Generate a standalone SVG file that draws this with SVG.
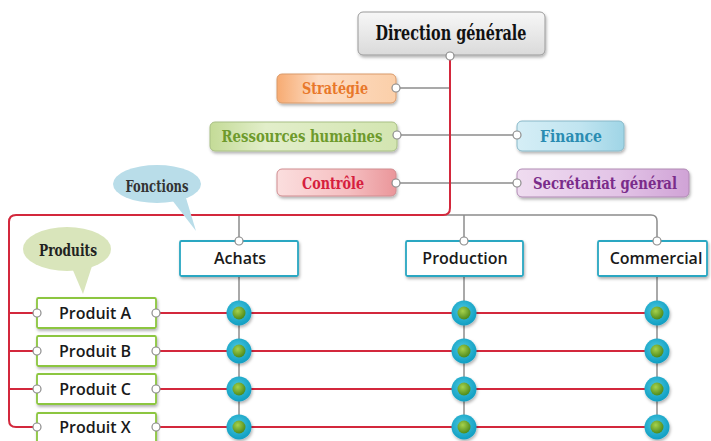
<svg xmlns="http://www.w3.org/2000/svg" width="711" height="441" viewBox="0 0 711 441">
<defs>
<filter id="sh" x="-20%" y="-30%" width="140%" height="170%">
<feDropShadow dx="1" dy="2" stdDeviation="1.5" flood-color="#000" flood-opacity="0.3"/>
</filter>
<linearGradient id="gGray" x1="0" y1="0" x2="0" y2="1"><stop offset="0" stop-color="#f7f7f7"/><stop offset="1" stop-color="#dadada"/></linearGradient>
<linearGradient id="gOrange" x1="0" y1="0" x2="1" y2="0"><stop offset="0" stop-color="#f7ab72"/><stop offset="0.35" stop-color="#fddcc3"/><stop offset="1" stop-color="#fbcfa9"/></linearGradient>
<linearGradient id="gGreen" x1="0" y1="0" x2="1" y2="0"><stop offset="0" stop-color="#c4db97"/><stop offset="0.3" stop-color="#e2eeca"/><stop offset="1" stop-color="#d3e5b1"/></linearGradient>
<linearGradient id="gBlue" x1="0" y1="0" x2="1" y2="0"><stop offset="0" stop-color="#d5eef6"/><stop offset="0.6" stop-color="#c0e4f0"/><stop offset="1" stop-color="#9fd5e6"/></linearGradient>
<linearGradient id="gPink" x1="0" y1="0" x2="1" y2="0"><stop offset="0" stop-color="#fbdede"/><stop offset="0.6" stop-color="#f5bfc1"/><stop offset="1" stop-color="#ea969a"/></linearGradient>
<linearGradient id="gPurple" x1="0" y1="0" x2="1" y2="0"><stop offset="0" stop-color="#efdcf0"/><stop offset="0.6" stop-color="#e2c3e6"/><stop offset="1" stop-color="#d0a3d6"/></linearGradient>
<radialGradient id="gDotOut" cx="0.45" cy="0.4" r="0.6"><stop offset="0" stop-color="#4cc8e0"/><stop offset="1" stop-color="#0f9ec2"/></radialGradient>
<radialGradient id="gDotIn" cx="0.4" cy="0.35" r="0.65"><stop offset="0" stop-color="#a6d24c"/><stop offset="1" stop-color="#4e8a1c"/></radialGradient>
<g id="dot">
<circle r="12.5" fill="url(#gDotOut)"/>
<circle r="6.5" fill="url(#gDotIn)"/>
</g>
</defs>
<style>
.red{fill:none;stroke:#d3283c;stroke-width:2}
.gray{fill:none;stroke:#8c8c8c;stroke-width:1.5}
.pt{fill:#fff;stroke:#8c8c8c;stroke-width:1.2}
.top{filter:url(#sh);stroke-width:1}
.slab{font-family:"DejaVu Serif Condensed","Liberation Serif",serif;font-weight:bold;text-anchor:middle}
.sans{font-family:"Open Sans","Liberation Sans",sans-serif;font-weight:600;text-anchor:middle;fill:#1a1a1a}
.fn{fill:#fff;stroke:#2aa7c2;stroke-width:1.8;filter:url(#sh)}
.pr{fill:#fff;stroke:#8cc63f;stroke-width:1.8;filter:url(#sh)}
</style>
<rect width="711" height="441" fill="#fff"/>

<g id="connectors">
<path class="gray" d="M396,88 H450"/>
<path class="gray" d="M397,135 H517"/>
<path class="gray" d="M396,183 H517"/>
<path class="gray" d="M239,241 V215 H651 Q657,215 657,221 V241"/>
<path class="gray" d="M464,215 V241"/>
<path class="gray" d="M239,277 V427"/>
<path class="gray" d="M464,277 V427"/>
<path class="gray" d="M657,277 V427"/>
<path class="red" d="M450,56 V208 Q450,215 443,215 H16 Q9,215 9,222 V420 Q9,427 16,427 H37"/>
<path class="red" d="M9,313 H37 M9,351 H37 M9,389 H37"/>
<path class="red" d="M156,313 H657 M156,351 H657 M156,389 H657 M156,427 H657"/>
</g>

<g id="bubble-fonctions">
<path d="M172,200 L196,231 L186,198 Z" fill="#b9dde9"/>
<ellipse cx="157" cy="184" rx="44" ry="19" fill="#b9dde9"/>
<text x="157" y="192" class="slab" font-size="16" fill="#333" textLength="63" lengthAdjust="spacingAndGlyphs">Fonctions</text>
</g>
<g id="bubble-produits">
<path d="M72,268 L83,294 L92,266 Z" fill="#d9e5bb"/>
<ellipse cx="67" cy="249" rx="44" ry="22" fill="#d9e5bb"/>
<text x="68" y="256" class="slab" font-size="17" fill="#222" textLength="58" lengthAdjust="spacingAndGlyphs">Produits</text>
</g>

<g id="direction-generale">
<rect x="358" y="12" width="187" height="43" rx="5" fill="url(#gGray)" stroke="#9a9a9a" class="top"/>
<text x="451" y="40" class="slab" font-size="20" fill="#111" textLength="151" lengthAdjust="spacingAndGlyphs">Direction générale</text>
<circle cx="450" cy="56" r="4" class="pt"/>
</g>
<g id="strategie">
<rect x="277" y="74" width="119" height="29" rx="5" fill="url(#gOrange)" stroke="#d99a6a" class="top"/>
<text x="335" y="94" class="slab" font-size="17" fill="#e8782a" textLength="66" lengthAdjust="spacingAndGlyphs">Stratégie</text>
<circle cx="396" cy="88" r="4" class="pt"/>
</g>
<g id="ressources-humaines">
<rect x="210" y="122" width="187" height="29" rx="5" fill="url(#gGreen)" stroke="#a8bf84" class="top"/>
<text x="302" y="142" class="slab" font-size="17" fill="#6e9a2c" textLength="161" lengthAdjust="spacingAndGlyphs">Ressources humaines</text>
<circle cx="397" cy="135" r="4" class="pt"/>
</g>
<g id="finance">
<rect x="517" y="121" width="107" height="30" rx="5" fill="url(#gBlue)" stroke="#88b8c8" class="top"/>
<text x="571" y="142" class="slab" font-size="17" fill="#2a8cb2" textLength="62" lengthAdjust="spacingAndGlyphs">Finance</text>
<circle cx="517" cy="135" r="4" class="pt"/>
</g>
<g id="controle">
<rect x="277" y="169" width="119" height="27" rx="5" fill="url(#gPink)" stroke="#d08c90" class="top"/>
<text x="333" y="189" class="slab" font-size="17" fill="#d6203e" textLength="62" lengthAdjust="spacingAndGlyphs">Contrôle</text>
<circle cx="396" cy="183" r="4" class="pt"/>
</g>
<g id="secretariat-general">
<rect x="517" y="169" width="172" height="28" rx="5" fill="url(#gPurple)" stroke="#b08ab4" class="top"/>
<text x="605" y="189" class="slab" font-size="17" fill="#7a2c8a" textLength="144" lengthAdjust="spacingAndGlyphs">Secrétariat général</text>
<circle cx="517" cy="183" r="4" class="pt"/>
</g>

<g id="achats">
<rect x="180" y="241" width="118" height="35" rx="1.5" class="fn"/>
<text x="240" y="264" class="sans" font-size="16">Achats</text>
<circle cx="239" cy="241" r="4" class="pt"/>
</g>
<g id="production">
<rect x="406" y="241" width="117" height="35" rx="1.5" class="fn"/>
<text x="465" y="264" class="sans" font-size="16">Production</text>
<circle cx="464" cy="241" r="4" class="pt"/>
</g>
<g id="commercial">
<rect x="598" y="241" width="109" height="35" rx="1.5" class="fn"/>
<text x="656" y="264" class="sans" font-size="16">Commercial</text>
<circle cx="657" cy="241" r="4" class="pt"/>
</g>

<g id="produit-a">
<rect x="37" y="298" width="119" height="30" rx="1.5" class="pr"/>
<text x="95" y="319" class="sans" font-size="16">Produit A</text>
<circle cx="37" cy="313" r="4" class="pt"/><circle cx="156" cy="313" r="4" class="pt"/>
</g>
<g id="produit-b">
<rect x="37" y="336" width="119" height="30" rx="1.5" class="pr"/>
<text x="95" y="357" class="sans" font-size="16">Produit B</text>
<circle cx="37" cy="351" r="4" class="pt"/><circle cx="156" cy="351" r="4" class="pt"/>
</g>
<g id="produit-c">
<rect x="37" y="374" width="119" height="30" rx="1.5" class="pr"/>
<text x="95" y="395" class="sans" font-size="16">Produit C</text>
<circle cx="37" cy="389" r="4" class="pt"/><circle cx="156" cy="389" r="4" class="pt"/>
</g>
<g id="produit-x">
<rect x="37" y="413" width="119" height="30" rx="1.5" class="pr"/>
<text x="95" y="433" class="sans" font-size="16">Produit X</text>
<circle cx="37" cy="427" r="4" class="pt"/><circle cx="156" cy="427" r="4" class="pt"/>
</g>

<g id="junctions" filter="url(#sh)">
<use href="#dot" x="239" y="313"/><use href="#dot" x="464" y="313"/><use href="#dot" x="657" y="313"/>
<use href="#dot" x="239" y="351"/><use href="#dot" x="464" y="351"/><use href="#dot" x="657" y="351"/>
<use href="#dot" x="239" y="389"/><use href="#dot" x="464" y="389"/><use href="#dot" x="657" y="389"/>
<use href="#dot" x="239" y="427"/><use href="#dot" x="464" y="427"/><use href="#dot" x="657" y="427"/>
</g>
</svg>
